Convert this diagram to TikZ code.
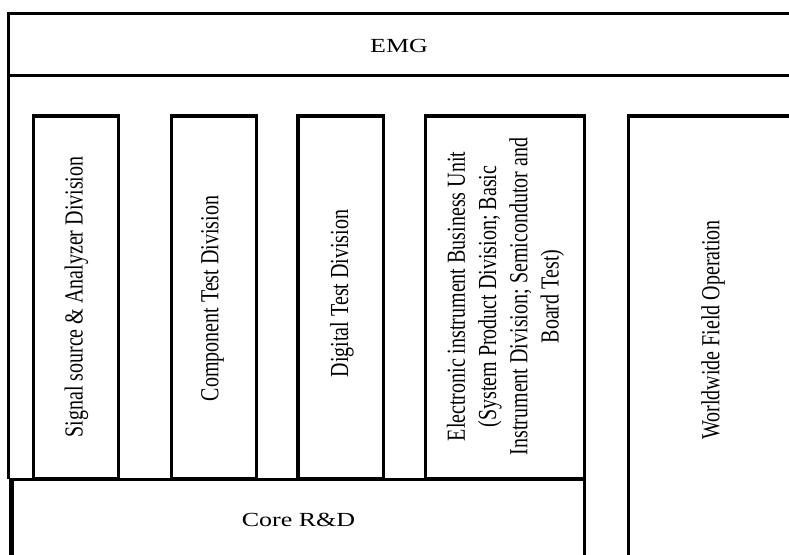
\documentclass[tikz,border=0pt]{standalone}
\usepackage{fontspec}
\setmainfont{Liberation Serif}
\newcommand{\lblfont}{\fontsize{20}{24}\selectfont}
\tikzset{
  frame/.style={draw=black, line width=3.5pt, fill=white},
  vlabel/.style={rotate=90, yscale=1.3, font=\lblfont, align=center, inner sep=0pt},
  hlabel/.style={font=\lblfont, xscale=1.3, inner sep=0pt, anchor=base},
}
\begin{document}
\begin{tikzpicture}[x=1pt, y=-1pt]
  \useasboundingbox (0,0) rectangle (789,554);
  \clip (0,0) rectangle (789,554);

  % top group bar
  \draw[frame, line width=3.8pt] (8.5,13.5) rectangle (805,75.5);
  \coordinate (emgfoot) at (8.7,75.5);

  % division columns
  \draw[frame] (33.5,116) rectangle (118.5,479);
  \draw[frame] (171.5,116) rectangle (256.5,479);
  \draw[frame] (298,116) rectangle (383.5,479);
  \draw[frame] (425.5,116) rectangle (584.5,479);
  \draw[frame] (628.5,116) rectangle (805,600);

  % shared research base
  \draw[frame, line width=3pt] (11.7,479) rectangle (584.5,600);
  \draw[line width=4.5pt] (11.7,477.5) -- (11.7,600);
  \coordinate (corefoot) at (8.7,478.5);
  \draw[line width=2.5pt] (emgfoot) -- (corefoot);

  % labels
  \node[hlabel] (emg) at (399,52) {EMG};
  \node[hlabel] (core) at (298.5,526) {Core R\&D};

  \node[vlabel] (sig) at (76.5,297) {Signal source \& Analyzer Division};
  \node[vlabel] (comp) at (212.5,298.5) {Component Test Division};
  \node[vlabel] (dig) at (342,293.5) {Digital Test Division};
  \node[vlabel] (eibu) at (505.5,296.5) {Electronic instrument Business Unit\\(System Product Division; Basic\\Instrument Division; Semicondutor and\\Board Test)};
  \node[vlabel] (wfo) at (713,330) {Worldwide Field Operation};
\end{tikzpicture}
\end{document}
